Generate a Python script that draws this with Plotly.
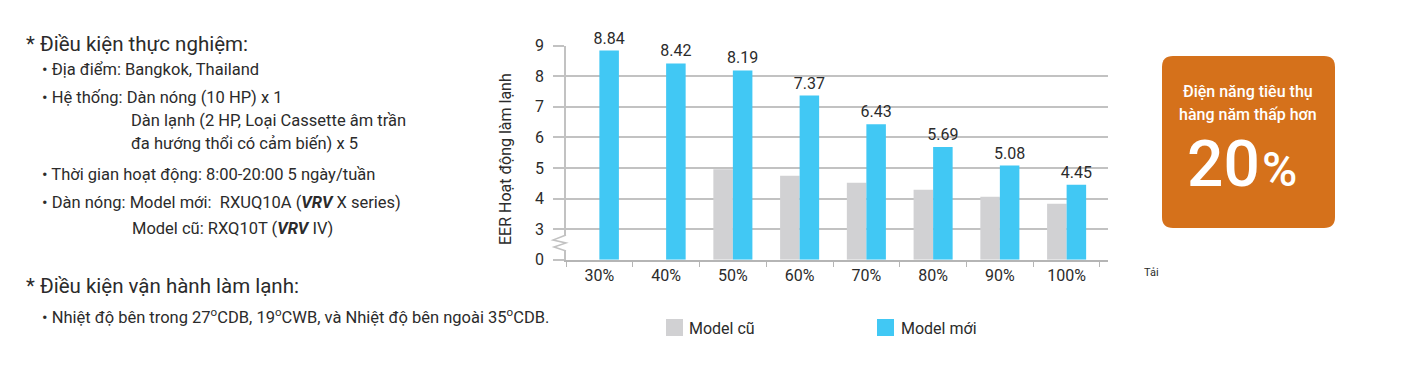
import plotly.graph_objects as go

categories = ["30%", "40%", "50%", "60%", "70%", "80%", "90%", "100%"]
old_model = [None, None, 4.96, 4.75, 4.52, 4.29, 4.06, 3.83]
new_model = [8.84, 8.42, 8.19, 7.37, 6.43, 5.69, 5.08, 4.45]
tick_values = [0, 3, 4, 5, 6, 7, 8, 9]
series_names = ["Model cũ", "Model mới"]
BREAK_LOW, BREAK_HIGH = 0, 3  # axis is broken between 0 and 3


def to_axis(v):
    if v is None:
        return None
    # collapse the broken 0..3 segment into one unit
    return v - (BREAK_HIGH - BREAK_LOW - 1) if v >= BREAK_HIGH else v / (BREAK_HIGH - BREAK_LOW)


W, H = 1418, 368
OFF = 8  # page body margin
FONT = "Roboto"
TXT = "#2b2b2b"
GRAY = "#d1d1d3"
BLUE = "#41c8f4"
ORANGE = "#d5711b"
LINE = "#c2c2c2"


def px(x):
    return (x - OFF) / W


def py(y):
    return 1 - (y - OFF) / H


fig = go.Figure()
fig.add_trace(go.Bar(x=categories, y=[to_axis(v) for v in old_model], name=series_names[0],
                     marker=dict(color=GRAY, line=dict(width=0)), hoverinfo="skip"))
fig.add_trace(go.Bar(x=categories, y=[to_axis(v) for v in new_model], name=series_names[1],
                     marker=dict(color=BLUE, line=dict(width=0)),
                     text=[f"{v:.2f}" for v in new_model], textposition="outside",
                     constraintext="none",
                     textfont=dict(size=16, color=TXT, family=FONT), cliponaxis=False,
                     hoverinfo="skip"))

fig.update_layout(
    width=W, height=H, margin=dict(l=0, r=0, t=0, b=0, autoexpand=False),
    paper_bgcolor="white", plot_bgcolor="white",
    barmode="group", bargap=0.415, bargroupgap=0,
    font=dict(family=FONT, color=TXT, size=15),
    showlegend=False,
    xaxis=dict(domain=[px(566), px(1108)], range=[-0.5, 7.62], type="category",
               showline=True, linecolor="#b5b5b5", linewidth=2,
               ticks="outside", tickson="boundaries", ticklen=5, tickcolor="#b5b5b5", tickwidth=1,
               tickfont=dict(size=16, color=TXT), showgrid=False, fixedrange=True, automargin=False),
    yaxis=dict(domain=[py(259.7), py(45.7)], range=[0, to_axis(9)],
               tickvals=[to_axis(v) for v in tick_values], ticktext=[str(v) for v in tick_values],
               showgrid=True, gridcolor=LINE, gridwidth=1.5,
               showline=True, linecolor=LINE, linewidth=1.5,
               ticks="outside", ticklen=11, tickcolor=LINE, tickwidth=1.5,
               ticklabelstandoff=6, automargin=False,
               tickfont=dict(size=16, color=TXT), zeroline=False, fixedrange=True),
)

# axis break: gap in the y-axis line with a zigzag
fig.add_shape(type="line", xref="paper", yref="paper", x0=px(566), x1=px(566),
              y0=py(236), y1=py(250), line=dict(color="white", width=4))
pts = [(566, 235), (553, 240), (566, 243), (554, 247), (566, 251)]
zig = "M " + " L ".join(f"{px(x)},{py(y)}" for x, y in pts)
fig.add_shape(type="path", xref="paper", yref="paper", path=zig,
              line=dict(color=LINE, width=1.5))

# y-axis title
fig.add_annotation(x=px(505), y=py(159), xref="paper", yref="paper", text="EER Hoạt động làm lạnh",
                   textangle=-90, showarrow=False, xanchor="center", yanchor="middle",
                   font=dict(size=16, color=TXT))
# x-axis unit
fig.add_annotation(x=px(1142), y=py(272), xref="paper", yref="paper", text="Tải", xanchor="left",
                   yanchor="middle", showarrow=False, font=dict(size=11, color=TXT))

# legend (drawn manually to match square size / spacing)
for (sx, tx), col, name in zip([(666, 687), (877, 899)], [GRAY, BLUE], series_names):
    fig.add_shape(type="rect", xref="paper", yref="paper", x0=px(sx), x1=px(sx + 17),
                  y0=py(336), y1=py(319), fillcolor=col, line=dict(width=0))
    fig.add_annotation(x=px(tx), y=py(328), xref="paper", yref="paper", text=name, showarrow=False,
                       xanchor="left", yanchor="middle", font=dict(size=16, color=TXT))

# orange callout box with rounded corners
x0, x1, y0, y1 = px(1162), px(1335), py(228), py(56)
rx, ry = 11 / W, 11 / H
path = (f"M {x0 + rx},{y0} L {x1 - rx},{y0} Q {x1},{y0} {x1},{y0 + ry} L {x1},{y1 - ry} "
        f"Q {x1},{y1} {x1 - rx},{y1} L {x0 + rx},{y1} Q {x0},{y1} {x0},{y1 - ry} "
        f"L {x0},{y0 + ry} Q {x0},{y0} {x0 + rx},{y0} Z")
fig.add_shape(type="path", xref="paper", yref="paper", path=path, fillcolor=ORANGE,
              line=dict(width=0), layer="below")
for txt, yy in [("Điện năng tiêu thụ", 91), ("hàng năm thấp hơn", 114)]:
    fig.add_annotation(x=px(1248), y=py(yy), xref="paper", yref="paper", text=txt, showarrow=False,
                       xanchor="center", yanchor="middle",
                       font=dict(size=16, color="white", family=FONT, weight=500))
fig.add_annotation(x=px(1262), y=py(164), xref="paper", yref="paper", text="20", showarrow=False,
                   xanchor="right", yanchor="middle",
                   font=dict(size=64, color="white", family=FONT, weight=500))
fig.add_annotation(x=px(1260), y=py(169), xref="paper", yref="paper", text="%", showarrow=False,
                   xanchor="left", yanchor="middle",
                   font=dict(size=48, color="white", family=FONT, weight=500))

# left text block
left_lines = [
    (24, 44, 20.5, "* Điều kiện thực nghiệm:"),
    (40, 70, 16.5, "• Địa điểm: Bangkok, Thailand"),
    (40, 98, 16.5, "• Hệ thống: Dàn nóng (10 HP) x 1"),
    (129, 121, 16.5, "Dàn lạnh (2 HP, Loại Cassette âm trần"),
    (129, 143, 16.5, "đa hướng thổi có cảm biến) x 5"),
    (40, 174, 16.5, "• Thời gian hoạt động: 8:00-20:00 5 ngày/tuần"),
    (40, 202, 16.5, "• Dàn nóng: Model mới:  RXUQ10A (<b><i>VRV</i></b> X series)"),
    (130, 229, 16.5, "Model cũ: RXQ10T (<b><i>VRV</i></b> IV)"),
    (24, 286, 20.5, "* Điều kiện vận hành làm lạnh:"),
    (40, 316, 16.5, "• Nhiệt độ bên trong 27<sup>o</sup>CDB, 19<sup>o</sup>CWB, và Nhiệt độ bên ngoài 35<sup>o</sup>CDB."),
]
for x, y, s, t in left_lines:
    fig.add_annotation(x=px(x), y=py(y), xref="paper", yref="paper", text=t, showarrow=False,
                       xanchor="left", yanchor="middle", font=dict(size=s, color=TXT, family=FONT))

fig.write_html("out.html")
